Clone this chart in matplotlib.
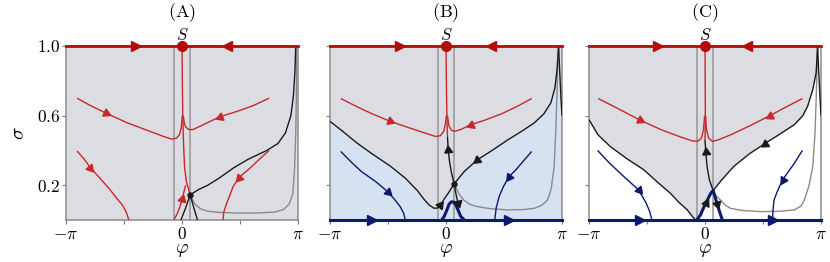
import numpy as np
import matplotlib
matplotlib.use('Agg')
import matplotlib.pyplot as plt

plt.rcParams['mathtext.fontset'] = 'cm'
plt.rcParams['font.family'] = ['DejaVu Serif']

PI = np.pi

# ---- data: (phi, sigma) points ----
# panel A
a_sep_up = [(0.22, 0.145), (0.45, 0.175), (0.7, 0.2), (1.0, 0.24), (1.4, 0.30), (1.8, 0.35),
            (2.3, 0.40), (2.6, 0.44), (2.8, 0.50), (2.95, 0.60), (3.02, 0.72), (3.06, 0.86), (3.08, 1.0)]
a_blk_dl = [(0.22, 0.145), (0.1, 0.07), (-0.03, 0.0)]
a_blk_dr = [(0.22, 0.145), (0.32, 0.07), (0.42, 0.0)]
a_gray = [(0.22, 0.145), (0.35, 0.09), (0.5, 0.065), (0.7, 0.05), (1.0, 0.044), (1.5, 0.04),
          (2.0, 0.04), (2.5, 0.045), (2.75, 0.06), (2.9, 0.09), (3.0, 0.15), (3.05, 0.3),
          (3.08, 0.5), (3.1, 0.75), (3.11, 1.0)]
a_red_vert = [(0.0, 1.0), (0.01, 0.8), (0.02, 0.6), (0.04, 0.45), (0.07, 0.3), (0.12, 0.22), (0.22, 0.145)]
a_red_vl = [(-2.84, 0.70), (-2.5, 0.66), (-2.07, 0.615), (-1.5, 0.56), (-1.0, 0.52), (-0.5, 0.48),
            (-0.28, 0.465), (-0.15, 0.47), (-0.07, 0.49), (-0.02, 0.53), (0.0, 0.58), (0.01, 0.6)]
a_red_vr = [(2.36, 0.70), (1.9, 0.655), (1.5, 0.625), (1.02, 0.593), (0.6, 0.55), (0.3, 0.52),
            (0.18, 0.52), (0.1, 0.535), (0.06, 0.56), (0.035, 0.6)]
a_red_ll = [(-2.84, 0.396), (-2.65, 0.35), (-2.48, 0.30), (-2.2, 0.235), (-1.96, 0.177),
            (-1.75, 0.12), (-1.6, 0.082), (-1.5, 0.04), (-1.44, 0.0)]
a_red_lr = [(2.36, 0.40), (2.1, 0.35), (1.8, 0.29), (1.54, 0.244), (1.38, 0.19), (1.29, 0.139),
            (1.2, 0.09), (1.13, 0.044), (1.11, 0.0)]
a_red_up = [(-0.22, 0.0), (-0.12, 0.04), (-0.05, 0.08), (0.0, 0.12), (0.05, 0.16), (0.1, 0.2)]

# panel B
b_sep = [(-PI, 0.567), (-2.8, 0.51), (-2.415, 0.443), (-2.0, 0.38), (-1.51, 0.31), (-1.1, 0.24),
         (-0.78, 0.17), (-0.6, 0.12), (-0.45, 0.085), (-0.33, 0.068), (-0.24, 0.068), (-0.15, 0.085),
         (-0.05, 0.12), (0.08, 0.16), (0.22, 0.208), (0.5, 0.28), (0.85, 0.346), (1.25, 0.40),
         (1.67, 0.46), (2.05, 0.51), (2.39, 0.558), (2.65, 0.61), (2.84, 0.673), (2.95, 0.76),
         (3.0, 0.85), (3.03, 0.93), (3.05, 1.0)]
b_cusp = [(3.05, 1.0), (3.07, 0.9), (3.1, 0.76), (3.13, 0.64), (PI, 0.6)]
b_blk_up = [(0.22, 0.208), (0.15, 0.27), (0.1, 0.33), (0.06, 0.4), (0.04, 0.48)]
b_blk_dr = [(0.22, 0.208), (0.27, 0.15), (0.32, 0.1), (0.35, 0.085)]
b_gray = [(0.22, 0.208), (0.35, 0.15), (0.48, 0.115), (0.65, 0.09), (0.85, 0.077), (1.2, 0.065),
          (1.67, 0.058), (2.1, 0.06), (2.39, 0.067), (2.6, 0.085), (2.75, 0.115), (2.85, 0.18),
          (2.93, 0.31), (2.97, 0.5), (3.0, 0.69), (3.02, 0.85), (3.04, 1.0)]
b_bump = [(-0.12, 0.0), (-0.05, 0.02), (0.02, 0.055), (0.08, 0.09), (0.14, 0.104), (0.2, 0.104),
          (0.26, 0.09), (0.33, 0.055), (0.4, 0.02), (0.5, 0.0)]
b_red_vert = [(0.0, 1.0), (0.01, 0.8), (0.02, 0.65), (0.03, 0.55), (0.04, 0.48)]
b_red_vl = [(-2.85, 0.698), (-2.4, 0.65), (-2.0, 0.61), (-1.51, 0.567), (-1.0, 0.53), (-0.5, 0.495),
            (-0.28, 0.48), (-0.15, 0.485), (-0.06, 0.51), (-0.01, 0.56), (0.01, 0.6)]
b_red_vr = [(2.32, 0.698), (1.9, 0.65), (1.5, 0.61), (1.0, 0.57), (0.67, 0.548), (0.4, 0.52),
            (0.25, 0.51), (0.15, 0.515), (0.08, 0.54), (0.04, 0.6)]
b_blue_l = [(-2.85, 0.394), (-2.6, 0.34), (-2.3, 0.28), (-1.9, 0.22), (-1.58, 0.163), (-1.4, 0.12),
            (-1.24, 0.077), (-1.15, 0.04), (-1.10, 0.0)]
b_blue_r = [(2.32, 0.394), (2.1, 0.34), (1.9, 0.29), (1.71, 0.25), (1.55, 0.19), (1.44, 0.135),
            (1.36, 0.07), (1.32, 0.0)]

# panel C
c_sep = [(-PI, 0.577), (-2.9, 0.49), (-2.57, 0.423), (-2.1, 0.35), (-1.66, 0.289), (-1.3, 0.22),
         (-0.94, 0.154), (-0.7, 0.1), (-0.48, 0.058), (-0.36, 0.025), (-0.28, 0.005), (-0.22, 0.0),
         (-0.12, 0.03), (-0.05, 0.065), (0.03, 0.1), (0.1, 0.13), (0.16, 0.155), (0.22, 0.169),
         (0.45, 0.23), (0.78, 0.308), (1.2, 0.38), (1.62, 0.439), (2.0, 0.49), (2.42, 0.548),
         (2.65, 0.6), (2.78, 0.654), (2.92, 0.75), (3.01, 0.846), (3.05, 1.0)]
c_cusp = [(3.05, 1.0), (3.08, 0.85), (3.12, 0.68), (PI, 0.6)]
c_tent = [(-0.22, 0.0), (-0.12, 0.03), (-0.05, 0.065), (0.03, 0.1), (0.1, 0.13), (0.16, 0.155),
          (0.22, 0.169), (0.27, 0.135), (0.33, 0.09), (0.4, 0.045), (0.47, 0.0)]
c_blk_up = [(0.22, 0.169), (0.12, 0.23), (0.06, 0.3), (0.02, 0.39), (0.0, 0.46)]
c_gray = [(0.22, 0.169), (0.3, 0.14), (0.42, 0.115), (0.55, 0.085), (0.69, 0.067), (1.0, 0.055),
          (1.51, 0.048), (2.0, 0.05), (2.42, 0.058), (2.6, 0.08), (2.69, 0.115), (2.82, 0.2),
          (2.92, 0.31), (2.98, 0.5), (3.01, 0.69), (3.03, 0.85), (3.05, 1.0)]
c_red_vert = [(0.0, 1.0), (0.005, 0.8), (0.01, 0.6), (0.0, 0.46)]
c_red_vl = [(-2.89, 0.698), (-2.4, 0.645), (-1.75, 0.573), (-1.2, 0.52), (-0.7, 0.48), (-0.35, 0.455),
            (-0.2, 0.452), (-0.1, 0.47), (-0.04, 0.52), (-0.01, 0.6)]
c_red_vr = [(2.64, 0.698), (2.2, 0.65), (1.76, 0.6), (1.2, 0.54), (0.7, 0.49), (0.35, 0.46),
            (0.2, 0.452), (0.1, 0.47), (0.04, 0.52), (0.015, 0.6)]
c_blue_l = [(-2.91, 0.40), (-2.6, 0.33), (-2.2, 0.25), (-1.8, 0.173), (-1.6, 0.1), (-1.5, 0.05),
            (-1.44, 0.0)]
c_blue_r = [(2.64, 0.40), (2.4, 0.32), (2.1, 0.231), (1.95, 0.16), (1.87, 0.115), (1.84, 0.05),
            (1.83, 0.0)]

titles = ['(A)', '(B)', '(C)']
red_top_arrows = [(-1.25, 1.22), (-1.24, 1.21), (-1.26, 1.15)]
blue_bot_arrows = [None, (-2.01, 1.71), (-1.75, 1.83)]
v_lines = [-0.22, 0.22]

# colours
GRAY_BG = '#dcdce3'
BLUE_BG = '#d6e1f2'
RED = '#b30c0c'
RED2 = '#c8282a'
NAVY = '#0c1a6c'
BLK = '#1a1a1a'
GRY = '#8a8a8a'
VL = '#9c9c9c'

fig = plt.figure(figsize=(8.3, 2.62), dpi=100)
lefts = [66 / 830, 330 / 830, 589 / 830]
axes = [fig.add_axes([l, 1 - 220 / 262, 232 / 830, 174 / 262]) for l in lefts]


def xy(pts):
    p = np.array(pts)
    return p[:, 0], p[:, 1]


def line(ax, pts, c, lw=1.0, z=3):
    x, y = xy(pts)
    ax.plot(x, y, color=c, lw=lw, zorder=z, solid_capstyle='butt')


def arrow(ax, pts, i, c, rev=False, ms=6.5):
    p = np.array(pts)
    a = p[max(i - 1, 0)]
    b = p[min(i + 1, len(p) - 1)]
    da = ax.transData.transform(a)
    db = ax.transData.transform(b)
    d = db - da
    if rev:
        d = -d
    ang = np.degrees(np.arctan2(d[1], d[0]))
    ax.plot([p[i, 0]], [p[i, 1]], marker=(3, 0, ang - 90), ms=ms, color=c, mec=c, zorder=6,
            clip_on=False)


def harrow(ax, x, yv, c, right=True):
    ax.plot([x], [yv], marker='>' if right else '<', ms=7, color=c, zorder=7, clip_on=False)


for k, ax in enumerate(axes):
    ax.set_xlim(-PI, PI)
    ax.set_ylim(0, 1.0)
    ax.set_xticks([-PI, 0, PI])
    ax.set_xticklabels([r'$-\pi$', r'$0$', r'$\pi$'], fontsize=12.5)
    ax.set_xticks([-PI / 2, PI / 2], minor=True)
    ax.set_yticks([0.2, 0.6, 1.0])
    if k == 0:
        ax.set_yticklabels([r'$0.2$', r'$0.6$', r'$1.0$'], fontsize=12.5)
        ax.set_ylabel(r'$\sigma$', fontsize=15, labelpad=6)
    else:
        ax.set_yticklabels([])
        ax.tick_params(axis='y', length=0)
    ax.tick_params(which='both', length=3, width=0.8, color='#777777', pad=1)
    ax.set_xlabel(r'$\varphi$', fontsize=14, labelpad=-1)
    for s in ax.spines.values():
        s.set_color('#8c8c8c')
        s.set_linewidth(1.1)
    ax.text(0.5, 1.19, r'$\mathrm{' + titles[k] + '}$', transform=ax.transAxes,
            ha='center', va='center', fontsize=13)
    ax.text(0.0, 1.06, r'$S$', transform=ax.get_xaxis_transform(),
            ha='center', va='center', fontsize=12)
    for v in v_lines:
        ax.axvline(v, color=VL, lw=1.2, zorder=2)

# ---- panel A ----
ax = axes[0]
ax.set_facecolor(GRAY_BG)
line(ax, a_gray, GRY)
line(ax, a_sep_up, BLK)
line(ax, a_blk_dl, BLK)
line(ax, a_blk_dr, BLK)
for pts in (a_red_vert, a_red_vl, a_red_vr, a_red_ll, a_red_lr, a_red_up):
    line(ax, pts, RED2, 1.0, 4)
arrow(ax, a_red_vl, 2, RED2)
arrow(ax, a_red_vr, 3, RED2)
arrow(ax, a_red_ll, 2, RED2)
arrow(ax, a_red_lr, 3, RED2)
arrow(ax, a_red_up, 3, RED2)
ax.plot([0.22], [0.145], 'o', ms=3.5, color=BLK, zorder=6)

# ---- panel B ----
ax = axes[1]
ax.set_facecolor(BLUE_BG)
xs, ys = xy(b_sep)
ax.fill(np.r_[xs, -PI], np.r_[ys, 1.0], color=GRAY_BG, lw=0, zorder=1)
line(ax, b_gray, GRY)
line(ax, b_sep, BLK)
line(ax, b_cusp, BLK)
line(ax, b_blk_up, BLK)
line(ax, b_blk_dr, BLK)
arrow(ax, b_sep, 11, BLK)
arrow(ax, b_sep, 16, BLK, rev=True)
arrow(ax, b_blk_up, 3, BLK)
arrow(ax, b_blk_dr, 2, BLK)
for pts in (b_red_vert, b_red_vl, b_red_vr):
    line(ax, pts, RED2, 1.0, 4)
arrow(ax, b_red_vl, 3, RED2)
arrow(ax, b_red_vr, 4, RED2)
for pts in (b_blue_l, b_blue_r):
    line(ax, pts, NAVY, 1.0, 4)
arrow(ax, b_blue_l, 4, NAVY)
arrow(ax, b_blue_r, 3, NAVY)
line(ax, b_bump, NAVY, 2.2, 5)
ax.plot([0.22], [0.208], 'o', ms=3.5, color=BLK, zorder=6)

# ---- panel C ----
ax = axes[2]
ax.set_facecolor('white')
xs, ys = xy(c_sep)
ax.fill(np.r_[xs, -PI], np.r_[ys, 1.0], color=GRAY_BG, lw=0, zorder=1)
line(ax, c_gray, GRY)
line(ax, c_sep[:12], BLK)
line(ax, c_sep[17:], BLK)
line(ax, c_cusp, BLK)
line(ax, c_blk_up, BLK)
arrow(ax, c_sep, 21, BLK, rev=True)
arrow(ax, c_blk_up, 3, BLK)
line(ax, c_tent, NAVY, 2.2, 5)
arrow(ax, c_tent, 3, BLK)
arrow(ax, c_tent, 8, BLK)
for pts in (c_red_vert, c_red_vl, c_red_vr):
    line(ax, pts, RED2, 1.0, 4)
arrow(ax, c_red_vl, 2, RED2)
arrow(ax, c_red_vr, 2, RED2)
for pts in (c_blue_l, c_blue_r):
    line(ax, pts, NAVY, 1.0, 4)
arrow(ax, c_blue_l, 3, NAVY)
arrow(ax, c_blue_r, 2, NAVY)

# top red line, S point, bottom blue line
for k, ax in enumerate(axes):
    ax.plot([-PI, PI], [1.0, 1.0], color=RED, lw=2.0, zorder=6, clip_on=False)
    xl, xr = red_top_arrows[k]
    harrow(ax, xl, 1.0, RED, True)
    harrow(ax, xr, 1.0, RED, False)
    ax.plot([0], [1.0], 'o', ms=7, color=RED, zorder=8, clip_on=False)
    if blue_bot_arrows[k] is not None:
        ax.plot([-PI, PI], [0.0, 0.0], color=NAVY, lw=2.2, zorder=6, clip_on=False)
        xl, xr = blue_bot_arrows[k]
        harrow(ax, xl, 0.0, NAVY, True)
        harrow(ax, xr, 0.0, NAVY, True)

fig.savefig('out.png', dpi=100)
